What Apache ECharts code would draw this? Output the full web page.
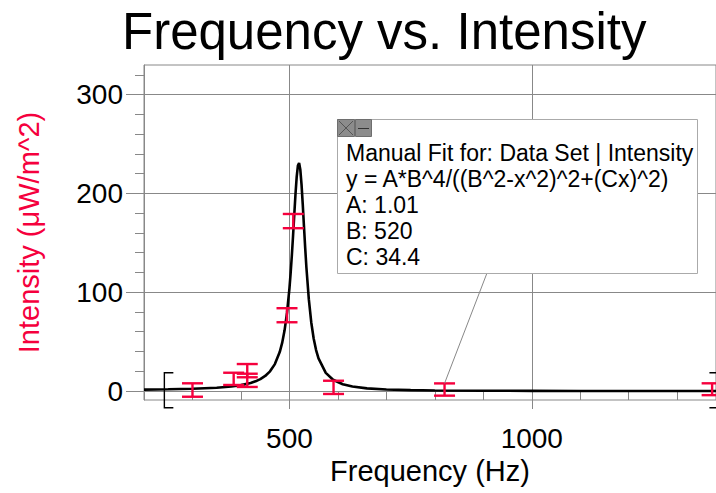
<!DOCTYPE html>
<html><head><meta charset="utf-8">
<script src="https://cdn.jsdelivr.net/npm/echarts@6/dist/echarts.min.js"></script>
<style>html,body{margin:0;padding:0;background:#fff}#c{width:716px;height:493px}</style>
</head><body><div id="c"></div>
<script>
// Measured data points (Hz, µW/m^2) with y error
const freqHz       = [300, 385, 413, 413, 495, 508, 591, 820, 1372];
const intensity    = [1.0, 12.3, 20.6, 10.8, 76.7, 172, 3.7, 1.5, 1.8];
const intensityErr = [6.8, 6.2, 6.7, 6.7, 7.1, 7.2, 6.7, 6.2, 6.0];

// Manual fit curve
const fitX = [200, 250, 300, 350, 380, 400, 420, 430, 440, 450, 460, 470, 480, 485, 490, 495, 500, 502.5, 505, 507.5, 510, 512.5, 515, 517.5, 520, 522.5, 525, 527.5, 530, 532.5, 535, 540, 545, 550, 555, 560, 575, 590, 610, 630, 660, 700, 750, 800, 900, 1000, 1100, 1200, 1300, 1380];
const fitY = [1.39, 1.71, 2.26, 3.35, 4.60, 5.97, 8.17, 9.81, 12.05, 15.23, 19.92, 27.23, 39.43, 48.72, 61.43, 79.08, 103.7, 119.3, 137.2, 157.2, 178.4, 199.2, 216.8, 228.2, 230.8, 223.9, 208.9, 188.9, 166.8, 145.2, 125.3, 92.95, 69.64, 53.19, 41.48, 33.01, 18.38, 11.45, 6.85, 4.48, 2.66, 1.51, 0.86, 0.54, 0.25, 0.14, 0.08, 0.05, 0.04, 0.03];

// Axis ticks
const xMajorTicks = [500, 1000];
const xMinorTicks = [300, 400, 600, 700, 800, 900, 1100, 1200, 1300];
const yMajorTicks = [0, 100, 200, 300];
const yMinorTicks = [20, 40, 60, 80, 120, 140, 160, 180, 220, 240, 260, 280, 320];

// Selection brackets (x, low, high, direction)
const bracketX   = [242, 1385];
const bracketLow = [-17, -17];
const bracketHigh= [18.5, 18.5];
const bracketDir = [1, -1];

// Annotation text
const fitLines = ['Manual Fit for: Data Set | Intensity', 'y = A*B^4/((B^2-x^2)^2+(Cx)^2)', 'A: 1.01', 'B: 520', 'C: 34.4'];
const annotPoint = [820, 7.7];

const RED = '#f5003d';
const GRAY = '#888';
const FONT = '"Liberation Sans", Arial, sans-serif';

const chart = echarts.init(document.getElementById('c'), null, {renderer: 'svg'});

const errData = freqHz.map((f, i) => [f, intensity[i] - intensityErr[i], intensity[i] + intensityErr[i], intensity[i]]);
const bracketData = bracketX.map((x, i) => [x, bracketLow[i], bracketHigh[i], bracketDir[i]]);
const fitData = fitX.map((x, i) => [x, fitY[i]]);

const axisCommonX = {type: 'value', min: 200, max: 1380, position: 'bottom', gridIndex: 0};
const axisCommonY = {type: 'value', min: -9.1, max: 330, position: 'left', gridIndex: 0};
const plainNum = v => String(v);

const option = {
  backgroundColor: '#fff',
  animation: false,
  title: {
    text: 'Frequency vs. Intensity', left: 122, top: 6, padding: 0,
    textStyle: {fontFamily: FONT, fontSize: 51, fontWeight: 'normal', color: '#000'}
  },
  grid: {left: 144, top: 65, right: -2, bottom: 93, show: true, borderColor: GRAY, borderWidth: 1, backgroundColor: 'transparent'},
  xAxis: [
    Object.assign({}, axisCommonX, {
      name: 'Frequency (Hz)', nameLocation: 'middle', nameGap: 55,
      nameTextStyle: {fontFamily: FONT, fontSize: 29, color: '#000'},
      axisLine: {show: true, lineStyle: {color: GRAY, width: 1}},
      axisTick: {show: true, customValues: xMajorTicks, length: 18, lineStyle: {color: GRAY, width: 1}},
      axisLabel: {show: true, customValues: xMajorTicks, formatter: plainNum, fontFamily: FONT, fontSize: 28, color: '#000', margin: 24},
      splitLine: {show: true, lineStyle: {color: GRAY, width: 1}}
    }),
    Object.assign({}, axisCommonX, {
      axisLine: {show: false},
      axisTick: {show: true, customValues: xMinorTicks, length: 9, lineStyle: {color: GRAY, width: 1}},
      axisLabel: {show: false},
      splitLine: {show: false}
    })
  ],
  yAxis: [
    Object.assign({}, axisCommonY, {
      name: 'Intensity (μW/m^2)', nameLocation: 'middle', nameGap: 101,
      nameTextStyle: {fontFamily: FONT, fontSize: 29, color: RED},
      axisLine: {show: true, lineStyle: {color: GRAY, width: 1}},
      axisTick: {show: true, customValues: yMajorTicks, length: 18, lineStyle: {color: GRAY, width: 1}},
      axisLabel: {show: true, customValues: yMajorTicks, formatter: plainNum, fontFamily: FONT, fontSize: 28, color: '#000', margin: 21},
      splitLine: {show: true, lineStyle: {color: ['#000', GRAY, GRAY, GRAY], width: 1}}
    }),
    Object.assign({}, axisCommonY, {
      axisLine: {show: false},
      axisTick: {show: true, customValues: yMinorTicks, length: 9, lineStyle: {color: GRAY, width: 1}},
      axisLabel: {show: false},
      splitLine: {show: false}
    })
  ],
  series: [
    {
      type: 'line', name: 'Manual Fit', data: fitData, xAxisIndex: 0, yAxisIndex: 0,
      showSymbol: false, smooth: false, clip: true, z: 3,
      lineStyle: {color: '#000', width: 2.6}
    },
    {
      type: 'custom', name: 'Data Set', data: errData, xAxisIndex: 0, yAxisIndex: 0, z: 4,
      encode: {x: 0, y: [1, 2]},
      renderItem: function (params, api) {
        const x = api.value(0), lo = api.value(1), hi = api.value(2);
        const pLo = api.coord([x, lo]), pHi = api.coord([x, hi]);
        const hw = 10.5;
        const st = {stroke: RED, lineWidth: 2.4, fill: null};
        return {type: 'group', children: [
          {type: 'line', shape: {x1: pLo[0], y1: pLo[1], x2: pHi[0], y2: pHi[1]}, style: st},
          {type: 'line', shape: {x1: pLo[0] - hw, y1: pLo[1], x2: pLo[0] + hw, y2: pLo[1]}, style: st},
          {type: 'line', shape: {x1: pHi[0] - hw, y1: pHi[1], x2: pHi[0] + hw, y2: pHi[1]}, style: st}
        ]};
      }
    },
    {
      type: 'custom', name: 'Brackets', data: bracketData, xAxisIndex: 0, yAxisIndex: 0, z: 4,
      encode: {x: 0, y: [1, 2]}, clip: false, silent: true,
      renderItem: function (params, api) {
        const x = api.value(0), lo = api.value(1), hi = api.value(2), d = api.value(3);
        const pLo = api.coord([x, lo]), pHi = api.coord([x, hi]);
        const arm = 9 * d;
        return {type: 'polyline', shape: {points: [[pHi[0] + arm, pHi[1]], [pHi[0], pHi[1]], [pLo[0], pLo[1]], [pLo[0] + arm, pLo[1]]]},
          style: {stroke: '#000', lineWidth: 1.4, fill: null}};
      }
    }
  ],
  graphic: [
    {id: 'conn', type: 'line', z: 90, shape: {x1: 487, y1: 273, x2: 444, y2: 384}, style: {stroke: GRAY, lineWidth: 1}},
    {id: 'box', type: 'rect', z: 100, shape: {x: 337.5, y: 119.5, width: 360, height: 154}, style: {fill: '#fff', stroke: '#aaa', lineWidth: 1}},
    {id: 'btnX', type: 'rect', z: 101, shape: {x: 337.5, y: 119.5, width: 17, height: 17}, style: {fill: '#8c8c8c', stroke: '#6e6e6e', lineWidth: 1}},
    {id: 'btnXa', type: 'line', z: 102, shape: {x1: 339, y1: 121, x2: 353, y2: 135}, style: {stroke: '#555', lineWidth: 1}},
    {id: 'btnXb', type: 'line', z: 102, shape: {x1: 353, y1: 121, x2: 339, y2: 135}, style: {stroke: '#555', lineWidth: 1}},
    {id: 'btnM', type: 'rect', z: 101, shape: {x: 355.5, y: 119.5, width: 16, height: 17}, style: {fill: '#8c8c8c', stroke: '#6e6e6e', lineWidth: 1}},
    {id: 'btnMa', type: 'line', z: 102, shape: {x1: 358, y1: 128.5, x2: 369, y2: 128.5}, style: {stroke: '#333', lineWidth: 1}},
    {id: 'txt', type: 'text', z: 103, x: 346, y: 140, style: {text: fitLines.join('\n'), font: '23px ' + FONT, lineHeight: 26, fill: '#000', textVerticalAlign: 'top'}}
  ]
};

chart.setOption(option);
const p = chart.convertToPixel({xAxisIndex: 0, yAxisIndex: 0}, annotPoint);
chart.setOption({graphic: [{id: 'conn', shape: {x1: 487, y1: 273, x2: p[0], y2: p[1]}}]});
</script></body></html>
